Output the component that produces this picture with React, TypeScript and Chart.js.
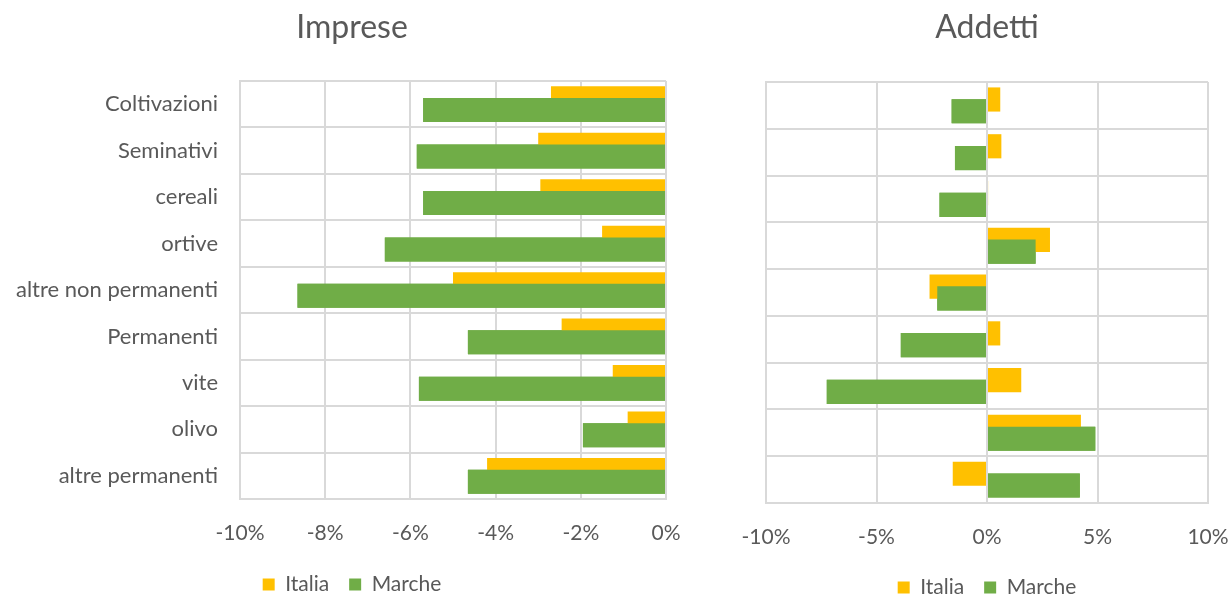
import React, { useEffect, useRef } from 'react';
import { Chart, registerables } from 'chart.js';

Chart.register(...registerables);

// ---- Data ----
const categories = [
  'Coltivazioni',
  'Seminativi',
  'cereali',
  'ortive',
  'altre non permanenti',
  'Permanenti',
  'vite',
  'olivo',
  'altre permanenti',
];
const seriesNames = ['Italia', 'Marche'];

const impreseItalia = [-2.7, -3.0, -2.95, -1.5, -5.0, -2.45, -1.25, -0.9, -4.2];
const impreseMarche = [-5.7, -5.85, -5.7, -6.6, -8.65, -4.65, -5.8, -1.95, -4.65];

const addettiItalia = [0.6, 0.65, 0.05, 2.85, -2.6, 0.6, 1.55, 4.25, -1.55];
const addettiMarche = [-1.6, -1.45, -2.15, 2.2, -2.25, -3.9, -7.25, 4.9, 4.2];

const impreseAxis = { min: -10, max: 0, step: 2 };
const addettiAxis = { min: -10, max: 10, step: 5 };

// ---- Styles ----
const ITALIA_COLOR = '#FFC000';
const MARCHE_COLOR = '#70AD47';
const TEXT_COLOR = '#595959';
const GRID_COLOR = '#D9D9D9';
const FONT = 'Lato, "Open Sans", sans-serif';
const CANVAS_H = 620;

const marcheOnTop = {
  id: 'marcheOnTop',
  afterLayout(chart: any) {
    // let the category labels extend left of the axis box without clipping
    const y = chart.scales.y;
    if (y) y.left = 0;
  },
  afterDatasetsDraw(chart: any) {
    if (chart.isDatasetVisible(1)) {
      chart.getDatasetMeta(1).controller.draw();
    }
  },
};

type Cfg = {
  title: string;
  italia: number[];
  marche: number[];
  axis: { min: number; max: number; step: number };
  showLabels: boolean;
  yWidth: number;
  padding: { left: number; right: number; top: number; bottom: number };
  titlePad: { top: number; bottom: number };
  xHeight: number;
};

function buildConfig(c: Cfg): any {
  return {
    type: 'bar',
    data: {
      labels: categories,
      datasets: [
        {
          label: seriesNames[0],
          data: c.italia,
          backgroundColor: ITALIA_COLOR,
          borderWidth: 0,
          categoryPercentage: 0.504,
          barPercentage: 2.05,
        },
        {
          label: seriesNames[1],
          data: c.marche,
          backgroundColor: MARCHE_COLOR,
          borderWidth: 0,
          categoryPercentage: 0.504,
          barPercentage: 2.05,
        },
      ],
    },
    options: {
      indexAxis: 'y',
      responsive: false,
      animation: false,
      layout: { padding: c.padding },
      plugins: {
        title: {
          display: true,
          text: c.title,
          color: TEXT_COLOR,
          font: { family: FONT, size: 32, weight: 'normal' },
          padding: c.titlePad,
        },
        legend: {
          display: true,
          position: 'bottom',
          labels: {
            color: TEXT_COLOR,
            font: { family: FONT, size: 21 },
            boxWidth: 12,
            boxHeight: 12,
            padding: 20,
          },
        },
        tooltip: { enabled: false },
      },
      scales: {
        x: {
          type: 'linear',
          min: c.axis.min,
          max: c.axis.max,
          ticks: {
            stepSize: c.axis.step,
            color: TEXT_COLOR,
            font: { family: FONT, size: 21 },
            padding: 22,
            callback: (v: any) => `${v}%`,
          },
          grid: { color: GRID_COLOR, lineWidth: 2, drawTicks: false },
          border: { color: GRID_COLOR, width: 2 },
          afterFit: (s: any) => {
            s.height = c.xHeight;
          },
        },
        y: {
          type: 'category',
          offset: true,
          ticks: {
            display: c.showLabels,
            color: TEXT_COLOR,
            font: { family: FONT, size: 22 },
            padding: 22,
          },
          grid: { color: GRID_COLOR, lineWidth: 2, drawTicks: false, offset: true },
          border: { color: GRID_COLOR, width: 2 },
          afterFit: (s: any) => {
            s.width = c.yWidth;
          },
        },
      },
    },
    plugins: [marcheOnTop],
  };
}

function BarPanel({ cfg, width, left }: { cfg: Cfg; width: number; left: number }) {
  const ref = useRef<HTMLCanvasElement | null>(null);
  useEffect(() => {
    if (!ref.current) return;
    const chart = new Chart(ref.current, buildConfig(cfg));
    return () => chart.destroy();
  }, []);
  return (
    <canvas
      ref={ref}
      width={width}
      height={CANVAS_H}
      style={{ position: 'absolute', left, top: 0, width, height: CANVAS_H }}
    />
  );
}

export default function App() {
  const leftCfg: Cfg = {
    title: 'Imprese',
    italia: impreseItalia,
    marche: impreseMarche,
    axis: impreseAxis,
    showLabels: true,
    yWidth: 202,
    padding: { left: 38, right: 37, top: 0, bottom: 15 },
    titlePad: { top: 8, bottom: 34.6 },
    xHeight: 55,
  };
  const rightCfg: Cfg = {
    title: 'Addetti',
    italia: addettiItalia,
    marche: addettiMarche,
    axis: addettiAxis,
    showLabels: false,
    yWidth: 0,
    padding: { left: 66, right: 43, top: 0, bottom: 12 },
    titlePad: { top: 8, bottom: 35.6 },
    xHeight: 54,
  };
  return (
    <div
      style={{
        position: 'fixed',
        left: 0,
        top: 0,
        width: 1231,
        height: 594,
        overflow: 'hidden',
        background: '#ffffff',
      }}
    >
      <BarPanel cfg={leftCfg} width={703} left={0} />
      <BarPanel cfg={rightCfg} width={551} left={700} />
    </div>
  );
}
